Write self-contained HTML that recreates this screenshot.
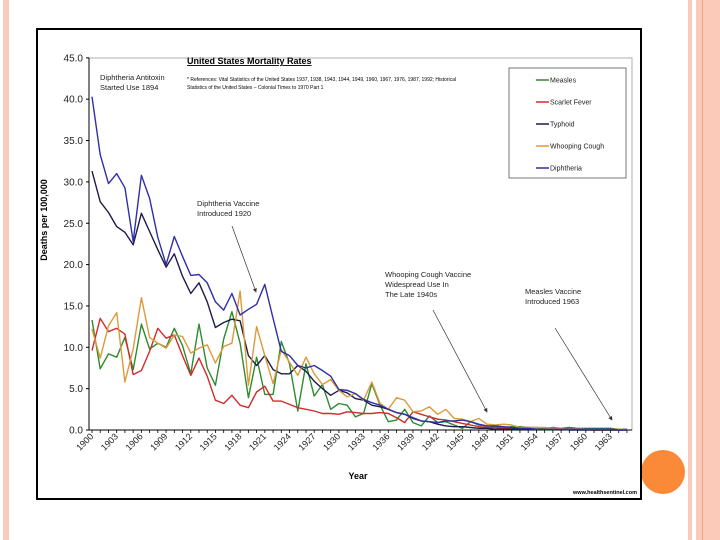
<!DOCTYPE html>
<html><head><meta charset="utf-8"><style>
html,body{margin:0;padding:0;background:#fff;width:720px;height:540px;overflow:hidden}
svg{display:block;font-family:"Liberation Sans",sans-serif}
</style></head><body>
<svg id="c" width="720" height="540" viewBox="0 0 720 540" xmlns="http://www.w3.org/2000/svg">
<rect x="3" y="0" width="6" height="540" fill="#f9cbb8"/>
<rect x="688" y="0" width="4" height="540" fill="#f9cbb8"/>
<rect x="696" y="0" width="24" height="540" fill="#f9cbb8"/>
<rect x="702" y="0" width="1" height="540" fill="#eea58a"/>
<circle cx="663" cy="472" r="22" fill="#fa8a38"/>
<rect x="37" y="29" width="604" height="470" fill="#fff" stroke="#000" stroke-width="2"/>
<rect x="89" y="58" width="543" height="372" fill="none" stroke="#999" stroke-width="0.8"/>
<g id="axes"></g>
<g id="series"></g>
<text x="187" y="64" font-size="9" font-weight="bold" text-decoration="underline">United States Mortality Rates</text>
<text x="187" y="81" font-size="5">* References: Vital Statistics of the United States 1937, 1938, 1943, 1944, 1949, 1960, 1967, 1976, 1987, 1992; Historical</text>
<text x="187" y="89" font-size="5">Statistics of the United States – Colonial Times to 1970 Part 1</text>
<g font-size="7.5" fill="#222">
<text x="100" y="80">Diphtheria Antitoxin</text>
<text x="100" y="90">Started Use 1894</text>
<text x="197" y="206">Diphtheria Vaccine</text>
<text x="197" y="216">Introduced 1920</text>
<text x="385" y="277">Whooping Cough Vaccine</text>
<text x="385" y="287">Widespread Use In</text>
<text x="385" y="297">The Late 1940s</text>
<text x="525" y="294">Measles Vaccine</text>
<text x="525" y="304">Introduced 1963</text>
</g>
<defs><marker id="ah" markerWidth="6" markerHeight="6" refX="5" refY="3" orient="auto"><path d="M0,0 L6,3 L0,6 z" fill="#333"/></marker></defs>
<line x1="232" y1="226" x2="256" y2="292" stroke="#333" stroke-width="0.7" marker-end="url(#ah)"/>
<line x1="433" y1="310" x2="487" y2="412" stroke="#333" stroke-width="0.7" marker-end="url(#ah)"/>
<line x1="555" y1="328" x2="612" y2="420" stroke="#333" stroke-width="0.7" marker-end="url(#ah)"/>
<rect x="509" y="68" width="117" height="110" fill="#fff" stroke="#555" stroke-width="0.8"/>
<g id="legend"></g>
<text x="47" y="220" font-size="9" font-weight="bold" text-anchor="middle" transform="rotate(-90 47 220)">Deaths per 100,000</text>
<text x="358" y="479" font-size="9" font-weight="bold" text-anchor="middle">Year</text>
<text x="637" y="494" font-size="5.5" font-weight="bold" text-anchor="end">www.healthsentinel.com</text>
</svg>
<script>
const years = [];
for (let y = 1900; y <= 1965; y++) years.push(y);
const yTicks = [0,5,10,15,20,25,30,35,40,45];
const measles = [13.3,7.4,9.2,8.8,11.2,7.3,12.8,9.8,10.5,10.0,12.3,10.2,6.8,12.8,7.5,5.4,11.0,14.3,10.5,3.9,8.8,4.3,4.3,10.7,8.0,2.3,8.0,4.1,5.5,2.5,3.2,3.0,1.6,2.0,5.6,3.0,1.0,1.2,2.5,0.9,0.5,1.7,0.9,1.0,0.6,0.2,1.0,0.6,0.5,0.4,0.3,0.4,0.4,0.3,0.3,0.2,0.3,0.2,0.3,0.2,0.2,0.2,0.2,0.2,0.1,0.1];
const scarlet = [9.6,13.5,11.9,12.3,11.6,6.7,7.2,9.5,12.3,11.1,11.5,9.0,6.6,8.7,6.5,3.6,3.2,4.2,3.0,2.7,4.6,5.3,3.5,3.5,3.1,2.7,2.5,2.3,2.0,2.0,1.9,2.2,2.1,2.0,2.0,2.1,2.0,1.5,0.9,2.2,1.9,1.6,1.3,1.2,1.0,0.8,0.6,0.4,0.3,0.3,0.2,0.2,0.1,0.1,0.1,0.1,0.1,0.1,0.1,0.1,0.1,0.0,0.0,0.0,0.0,0.0];
const typhoid = [31.3,27.6,26.3,24.6,23.9,22.4,26.2,24.0,21.8,19.7,21.3,18.6,16.5,17.8,15.5,12.4,13.0,13.4,13.2,9.0,7.8,9.0,7.3,6.8,6.8,7.8,7.1,5.9,5.0,4.2,4.8,4.5,3.8,3.6,3.0,2.8,2.5,2.1,1.9,1.4,1.1,1.0,0.7,0.5,0.4,0.4,0.3,0.2,0.2,0.1,0.1,0.1,0.1,0.1,0.1,0.1,0.1,0.1,0.0,0.0,0.0,0.0,0.0,0.0,0.0,0.0];
const whooping = [12.2,8.7,12.6,14.2,5.8,9.8,16.0,11.2,10.5,9.9,11.5,11.3,9.3,9.9,10.3,8.1,10.1,10.5,16.8,5.4,12.5,9.0,5.6,9.7,8.2,6.6,8.8,6.8,5.5,6.1,4.8,4.0,4.4,3.6,5.8,3.2,2.5,3.9,3.6,2.2,2.3,2.8,1.9,2.5,1.4,1.3,1.0,1.4,0.7,0.6,0.7,0.6,0.3,0.3,0.3,0.3,0.2,0.2,0.1,0.2,0.1,0.1,0.1,0.1,0.1,0.0];
const diphtheria = [40.3,33.3,29.8,31.0,29.3,22.8,30.8,28.0,23.3,20.0,23.4,21.0,18.7,18.8,17.8,15.5,14.5,16.5,13.9,14.6,15.2,17.6,13.5,9.5,9.0,7.8,7.5,7.8,7.2,6.5,4.9,4.8,4.4,3.7,3.3,3.0,2.5,2.1,1.9,1.5,1.1,1.0,0.9,1.1,1.1,1.2,1.0,0.7,0.5,0.5,0.4,0.3,0.2,0.2,0.1,0.1,0.1,0.1,0.1,0.1,0.1,0.1,0.1,0.1,0.0,0.0];
const seriesNames = ["Measles","Scarlet Fever","Typhoid","Whooping Cough","Diphtheria"];
const seriesData = [measles, scarlet, typhoid, whooping, diphtheria];
const seriesColors = ["#2e8b2e","#d42a2a","#1c1c4a","#dc9a3a","#2f2fa8"];

const NS = "http://www.w3.org/2000/svg";
const X0 = 92, XW = 8.23, Y0 = 430, YS = 8.27;
const xS = yr => X0 + (yr - 1900) * XW;
const yS = v => Y0 - v * YS;
function mk(tag, attrs, parent){ const e=document.createElementNS(NS,tag); for(const k in attrs) e.setAttribute(k,attrs[k]); parent.appendChild(e); return e; }

const axes = document.getElementById('axes');
const yl = mk('line',{x1:89,y1:58,x2:89,y2:430,stroke:'#000','stroke-width':1},axes);


const xl = mk('line',{x1:89,y1:430,x2:632,y2:430,stroke:'#000','stroke-width':1},axes);


yTicks.forEach(t=>{
  const tk = mk('line',{x1:86,y1:yS(t),x2:89,y2:yS(t),stroke:'#000','stroke-width':1},axes);
  
  
  const tx = mk('text',{x:83,y:yS(t)+3.5,'font-size':10,'text-anchor':'end',fill:'#222'},axes);
  
  
  tx.textContent = t.toFixed(1);
});
years.forEach((yr,i)=>{
  const tk = mk('line',{x1:xS(yr),y1:430,x2:xS(yr),y2:433,stroke:'#000','stroke-width':0.8},axes);
  
  
  if(i%3===0 && yr<=1963){
    const x=xS(yr)+2, y=437;
    const tx = mk('text',{x:x,y:y,'font-size':9,'text-anchor':'end',fill:'#222',transform:`rotate(-45 ${x} ${y})`},axes);
    
    
    tx.textContent = yr;
  }
});
const sg = document.getElementById('series');
seriesData.forEach((d,si)=>{
  const pts = d.map((v,i)=>xS(years[i]).toFixed(1)+','+yS(v).toFixed(1)).join(' ');
  const pl = mk('polyline',{points:pts,fill:'none',stroke:seriesColors[si],'stroke-width':1.4,'stroke-linejoin':'round'},sg);
  
  
});
const lg = document.getElementById('legend');
seriesNames.forEach((n,i)=>{
  const y = 80 + i*22;
  const ln = mk('line',{x1:536,y1:y,x2:549,y2:y,stroke:seriesColors[i],'stroke-width':1.5},lg);
  
  
  const tx = mk('text',{x:550,y:y+2.5,'font-size':7,fill:'#222'},lg);
  
  
  tx.textContent = n;
});
</script>
</body></html>
